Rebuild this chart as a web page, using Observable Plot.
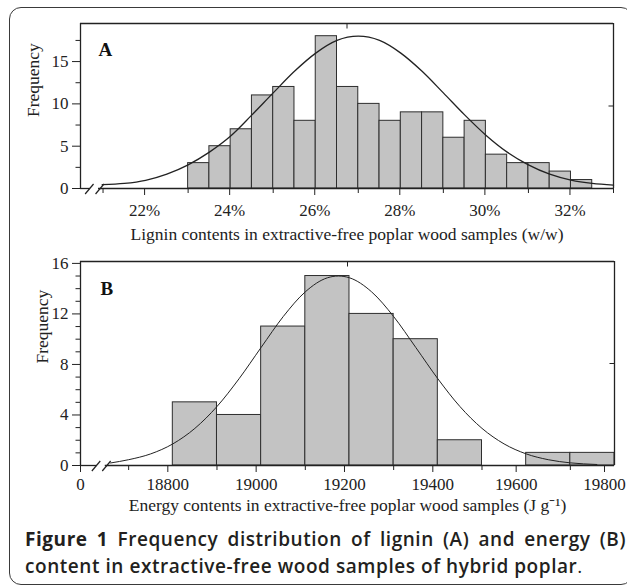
<!DOCTYPE html>
<html><head><meta charset="utf-8">
<script src="https://cdn.jsdelivr.net/npm/d3@7"></script>
<script src="https://cdn.jsdelivr.net/npm/@observablehq/plot@0.6"></script>
<style>
html,body{margin:0;padding:0;background:#fff;}
#wrap{position:relative;width:627px;height:587px;overflow:hidden;background:#fff;}
#box{position:absolute;left:9px;top:7px;width:622px;height:576px;border:1.5px solid #3a3a3a;border-radius:12px;}
#plotA{position:absolute;left:0;top:0;}
#plotB{position:absolute;left:0;top:250px;}
#caption{position:absolute;left:25px;top:526px;width:601px;font-family:"Open Sans",sans-serif;font-size:19px;letter-spacing:0.55px;font-weight:600;color:#231f20;line-height:27px;}
#caption .l1{text-align:justify;text-align-last:justify;white-space:nowrap;}
#caption b{font-weight:700;}
#caption .dot{font-weight:400;}
</style>
</head><body>
<div id="wrap">
  <div id="box"></div>
  <div id="plotA"></div>
  <div id="plotB"></div>
  <div id="caption"><div class="l1"><b>Figure 1</b> Frequency distribution of lignin (A) and energy (B)</div><div>content in extractive-free wood samples of hybrid poplar<span class="dot">.</span></div></div>
</div>
<script>
// ---------- Panel A data: lignin (% w/w) ----------
const ligninBinStart = [23, 23.5, 24, 24.5, 25, 25.5, 26, 26.5, 27, 27.5, 28, 28.5, 29, 29.5, 30, 30.5, 31, 31.5, 32];
const ligninCounts   = [3, 5, 7, 11, 12, 8, 18, 12, 10, 8, 9, 9, 6, 8, 4, 3, 3, 2, 1];
const ligninBinWidth = 0.5;
const ligninCurveX = [20.98, 21.5, 22, 22.5, 23, 23.5, 24, 24.5, 25, 25.5, 26, 26.5, 27, 27.5, 28, 28.5, 29, 29.5, 30, 30.5, 31, 31.5, 32, 32.5, 33];
const ligninCurveY = [0.45, 0.6, 0.97, 1.7, 2.8, 4.3, 6.2, 8.7, 11.3, 13.85, 16.0, 17.5, 18.0, 17.5, 16.0, 13.85, 11.3, 8.7, 6.3, 4.3, 2.8, 1.7, 1.0, 0.6, 0.4];
const ligninMajorTicks = [22, 24, 26, 28, 30, 32];
const ligninMinorTicks = [21, 23, 25, 27, 29, 31, 33];
const freqATicks = [0, 5, 10, 15];
const freqAMinor = [2.5, 7.5, 12.5, 17.5];
const ligninDomain = [20.47, 33.0];
const freqADomain = [0, 19.5];
const ligninBreak = 20.8;

// ---------- Panel B data: energy (J/g) ----------
const energyBinStart = [18800, 18900, 19000, 19100, 19200, 19300, 19400, 19500, 19600, 19700];
const energyCounts   = [5, 4, 11, 15, 12, 10, 2, 0, 1, 1];
const energyBinWidth = 100;
const energyCurveX = [18659, 18700, 18750, 18800, 18850, 18900, 18950, 19000, 19050, 19100, 19150, 19175, 19200, 19250, 19300, 19350, 19400, 19450, 19500, 19550, 19600, 19650, 19700, 19760];
const energyCurveY = [0.2, 0.46, 0.92, 1.71, 2.94, 4.67, 6.87, 9.35, 11.79, 13.75, 14.86, 15.0, 14.86, 13.75, 11.79, 9.35, 6.87, 4.67, 2.94, 1.71, 0.92, 0.46, 0.21, 0.08];
const energyTickValues = [18591, 18800, 19000, 19200, 19400, 19600, 19800];
const energyTickLabels = ["0", "18800", "19000", "19200", "19400", "19600", "19800"];
const energyMinorTicks = [18700, 18900, 19100, 19300, 19500, 19700];
const freqBTicks = [0, 4, 8, 12, 16];
const freqBMinor = [1, 2, 3, 5, 6, 7, 9, 10, 11, 13, 14, 15];
const energyDomain = [18591, 19800];
const freqBDomain = [0, 16.15];
const energyBreak = 18638;

const ligninRows = ligninBinStart.map((x, i) => ({x1: x, x2: x + ligninBinWidth, count: ligninCounts[i]}));
const ligninCurve = ligninCurveX.map((x, i) => ({x, y: ligninCurveY[i]}));
const energyRows = energyBinStart.map((x, i) => ({x1: x, x2: x + energyBinWidth, count: energyCounts[i]})).filter(d => d.count > 0);
const energyCurve = energyCurveX.map((x, i) => ({x, y: energyCurveY[i]}));
const energyLabelMap = new Map(energyTickValues.map((v, i) => [v, energyTickLabels[i]]));

const INK = "#222";
const BAR = "#c3c3c3";
const BAREDGE = "#2e2e2e";
const serif = "'Liberation Serif', 'Times New Roman', serif";

function panel(o) {
  const [x0, x1] = o.xDomain, [y0, y1] = o.yDomain;
  const xs = (x1 - x0) / (627 - o.marginLeft - o.marginRight); // data units per px
  const ys = (y1 - y0) / (o.height - o.marginTop - o.marginBottom);
  const b = o.breakAt;
  const gap = 4 * xs;
  const slashes = [-1, 1].map(s => ({
    x1: b + s * 5.2 * xs - 4.2 * xs, y1: -5.5 * ys,
    x2: b + s * 5.2 * xs + 4.2 * xs, y2: 4.5 * ys
  }));
  const xmid = (x0 + x1) / 2, ymid = (y0 + y1) / 2;
  const xLabelAxes = o.xLabelGroups.map(g =>
    Plot.axisX({ticks: g.ticks, tickFormat: o.xFormat, tickSize: 7, tickPadding: o.xPad, dx: g.dx, fontSize: 17, label: null, stroke: INK, fill: INK}));
  return Plot.plot({
    width: 627, height: o.height,
    marginTop: o.marginTop, marginBottom: o.marginBottom, marginLeft: o.marginLeft, marginRight: o.marginRight,
    x: {domain: o.xDomain, axis: null},
    y: {domain: o.yDomain, axis: null},
    style: {fontFamily: serif, fontSize: "17px", color: INK, background: "transparent", overflow: "visible"},
    marks: [
      Plot.rectY(o.bars, {x1: "x1", x2: "x2", y: "count", fill: BAR, stroke: BAREDGE, strokeWidth: 1}),
      Plot.line(o.curve, {x: "x", y: "y", stroke: INK, strokeWidth: o.curveWidth, curve: "monotone-x"}),
      // frame (left, right, top) and broken bottom axis
      Plot.ruleX([x0, x1], {stroke: INK, strokeWidth: 1.3}),
      Plot.ruleY([y1], {stroke: INK, strokeWidth: 1.3}),
      Plot.ruleY([0], {x1: x0, x2: b - gap, stroke: INK, strokeWidth: 1.3}),
      Plot.ruleY([0], {x1: b + gap, x2: x1, stroke: INK, strokeWidth: 1.3}),
      Plot.link(slashes, {x1: "x1", y1: "y1", x2: "x2", y2: "y2", stroke: INK, strokeWidth: 1.2}),
      // small mid ticks on top and right edges
      Plot.link([xmid], {x1: d => d, x2: d => d, y1: y1, y2: y1 - 5 * ys, stroke: INK, strokeWidth: 1}),
      Plot.link([ymid], {x1: x1, x2: x1 - 5 * xs, y1: d => d, y2: d => d, stroke: INK, strokeWidth: 1}),
      // axes
      ...xLabelAxes,
      Plot.axisX({ticks: o.xMinor, tickFormat: () => "", tickSize: 5, label: null, stroke: INK}),
      Plot.axisY({ticks: o.yMajor, tickSize: 8, tickPadding: 4, fontSize: 17, label: null, stroke: INK, fill: INK}),
      Plot.axisY({ticks: o.yMinor, tickFormat: () => "", tickSize: 4.5, label: null, stroke: INK}),
      // titles
      Plot.text([o.xTitle], {text: d => d, frameAnchor: "bottom", dy: o.xTitleDy, lineAnchor: "middle", fontSize: 17.5, fill: INK}),
      Plot.text(["Frequency"], {text: d => d, frameAnchor: "left", dx: o.yTitleDx, dy: o.yTitleDy, rotate: -90, lineAnchor: "middle", fontSize: 17.5, fill: INK}),
      Plot.text([o.panelLabel], {text: d => d, frameAnchor: "top-left", dx: o.panelDx, dy: o.panelDy, textAnchor: "start", lineAnchor: "middle", fontSize: 19, fontWeight: "bold", fill: "#111"})
    ]
  });
}

document.getElementById("plotA").appendChild(panel({
  height: 250, marginTop: 23, marginBottom: 62, marginLeft: 80, marginRight: 14,
  xDomain: ligninDomain, yDomain: freqADomain, breakAt: ligninBreak,
  bars: ligninRows, curve: ligninCurve, curveWidth: 1.3,
  xLabelGroups: [{ticks: ligninMajorTicks, dx: -1}], xMinor: ligninMinorTicks, xFormat: d => d + "%", xPad: 8,
  yMajor: freqATicks, yMinor: freqAMinor,
  xTitle: "Lignin contents in extractive-free poplar wood samples (w/w)", xTitleDy: 45.5,
  yTitleDx: -47, yTitleDy: 11, panelLabel: "A", panelDx: 18, panelDy: 26
}));

document.getElementById("plotB").appendChild(panel({
  height: 265, marginTop: 11, marginBottom: 50, marginLeft: 80, marginRight: 13,
  xDomain: energyDomain, yDomain: freqBDomain, breakAt: energyBreak,
  bars: energyRows, curve: energyCurve, curveWidth: 1,
  xLabelGroups: [
    {ticks: energyTickValues.slice(0, 1), dx: 0},
    {ticks: energyTickValues.slice(1, 5), dx: -5},
    {ticks: energyTickValues.slice(5), dx: -10}
  ],
  xMinor: energyMinorTicks, xFormat: d => energyLabelMap.get(d), xPad: 5,
  yMajor: freqBTicks, yMinor: freqBMinor,
  xTitle: "Energy contents in extractive-free poplar wood samples (J g\u207B\u00B9)", xTitleDy: 39.5,
  yTitleDx: -38, yTitleDy: 0, panelLabel: "B", panelDx: 20, panelDy: 27
}));
</script>
</body></html>
